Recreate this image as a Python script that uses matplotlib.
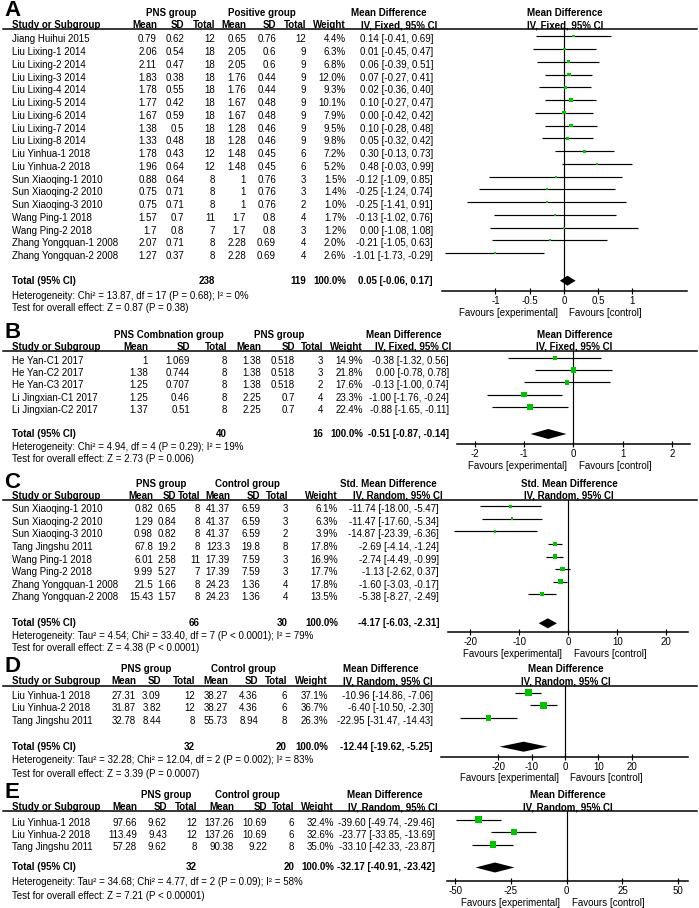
import matplotlib.pyplot as plt
import numpy as np
from matplotlib.lines import Line2D
from matplotlib.ticker import FuncFormatter

plt.rcParams["font.family"] = ["Liberation Sans", "DejaVu Sans"]
plt.rcParams["axes.unicode_minus"] = False

W, H = 699, 908
FS = 7
GREEN = "#00c400"

# ---------------- data ----------------
# panel A
a_study = ["Jiang Huihui 2015", "Liu Lixing-1 2014", "Liu Lixing-2 2014", "Liu Lixing-3 2014",
           "Liu Lixing-4 2014", "Liu Lixing-5 2014", "Liu Lixing-6 2014", "Liu Lixing-7 2014",
           "Liu Lixing-8 2014", "Liu Yinhua-1 2018", "Liu Yinhua-2 2018", "Sun Xiaoqing-1 2010",
           "Sun Xiaoqing-2 2010", "Sun Xiaoqing-3 2010", "Wang Ping-1 2018", "Wang Ping-2 2018",
           "Zhang Yongquan-1 2008", "Zhang Yongquan-2 2008"]
a_pns_mean = [0.79, 2.06, 2.11, 1.83, 1.78, 1.77, 1.67, 1.38, 1.33, 1.78, 1.96, 0.88, 0.75, 0.75, 1.57, 1.7, 2.07, 1.27]
a_pns_sd = [0.62, 0.54, 0.47, 0.38, 0.55, 0.42, 0.59, 0.5, 0.48, 0.43, 0.64, 0.64, 0.71, 0.71, 0.7, 0.8, 0.71, 0.37]
a_pns_n = [12, 18, 18, 18, 18, 18, 18, 18, 18, 12, 12, 8, 8, 8, 11, 7, 8, 8]
a_ctl_mean = [0.65, 2.05, 2.05, 1.76, 1.76, 1.67, 1.67, 1.28, 1.28, 1.48, 1.48, 1, 1, 1, 1.7, 1.7, 2.28, 2.28]
a_ctl_sd = [0.76, 0.6, 0.6, 0.44, 0.44, 0.48, 0.48, 0.46, 0.46, 0.45, 0.45, 0.76, 0.76, 0.76, 0.8, 0.8, 0.69, 0.69]
a_ctl_n = [12, 9, 9, 9, 9, 9, 9, 9, 9, 6, 6, 3, 3, 2, 4, 3, 4, 4]
a_weight = [4.4, 6.3, 6.8, 12.0, 9.3, 10.1, 7.9, 9.5, 9.8, 7.2, 5.2, 1.5, 1.4, 1.0, 1.7, 1.2, 2.0, 2.6]
a_md = [0.14, 0.01, 0.06, 0.07, 0.02, 0.10, 0.00, 0.10, 0.05, 0.30, 0.48, -0.12, -0.25, -0.25, -0.13, 0.00, -0.21, -1.01]
a_lo = [-0.41, -0.45, -0.39, -0.27, -0.36, -0.27, -0.42, -0.28, -0.32, -0.13, -0.03, -1.09, -1.24, -1.41, -1.02, -1.08, -1.05, -1.73]
a_hi = [0.69, 0.47, 0.51, 0.41, 0.40, 0.47, 0.42, 0.48, 0.42, 0.73, 0.99, 0.85, 0.74, 0.91, 0.76, 1.08, 0.63, -0.29]
a_total_n = [238, 119]
a_total_md = [0.05, -0.06, 0.17]
a_het = "Heterogeneity: Chi² = 13.87, df = 17 (P = 0.68); I² = 0%"
a_test = "Test for overall effect: Z = 0.87 (P = 0.38)"
a_groups = ["PNS group", "Positive group"]
a_effect = ["Mean Difference", "IV, Fixed, 95% CI"]
a_ticks = [-1, -0.5, 0, 0.5, 1]

# panel B
b_study = ["He Yan-C1 2017", "He Yan-C2 2017", "He Yan-C3 2017", "Li Jingxian-C1 2017", "Li Jingxian-C2 2017"]
b_pns_mean = [1, 1.38, 1.25, 1.25, 1.37]
b_pns_sd = [1.069, 0.744, 0.707, 0.46, 0.51]
b_pns_n = [8, 8, 8, 8, 8]
b_ctl_mean = [1.38, 1.38, 1.38, 2.25, 2.25]
b_ctl_sd = [0.518, 0.518, 0.518, 0.7, 0.7]
b_ctl_n = [3, 3, 2, 4, 4]
b_weight = [14.9, 21.8, 17.6, 23.3, 22.4]
b_md = [-0.38, 0.00, -0.13, -1.00, -0.88]
b_lo = [-1.32, -0.78, -1.00, -1.76, -1.65]
b_hi = [0.56, 0.78, 0.74, -0.24, -0.11]
b_total_n = [40, 16]
b_total_md = [-0.51, -0.87, -0.14]
b_het = "Heterogeneity: Chi² = 4.94, df = 4 (P = 0.29); I² = 19%"
b_test = "Test for overall effect: Z = 2.73 (P = 0.006)"
b_groups = ["PNS Combnation group", "PNS group"]
b_effect = ["Mean Difference", "IV, Fixed, 95% CI"]
b_ticks = [-2, -1, 0, 1, 2]

# panel C
c_study = ["Sun Xiaoqing-1 2010", "Sun Xiaoqing-2 2010", "Sun Xiaoqing-3 2010", "Tang Jingshu 2011",
           "Wang Ping-1 2018", "Wang Ping-2 2018", "Zhang Yongquan-1 2008", "Zhang Yongquan-2 2008"]
c_pns_mean = [0.82, 1.29, 0.98, 67.8, 6.01, 9.99, 21.5, 15.43]
c_pns_sd = [0.65, 0.84, 0.82, 19.2, 2.58, 5.27, 1.66, 1.57]
c_pns_n = [8, 8, 8, 8, 11, 7, 8, 8]
c_ctl_mean = [41.37, 41.37, 41.37, 123.3, 17.39, 17.39, 24.23, 24.23]
c_ctl_sd = [6.59, 6.59, 6.59, 19.8, 7.59, 7.59, 1.36, 1.36]
c_ctl_n = [3, 3, 2, 8, 3, 3, 4, 4]
c_weight = [6.1, 6.3, 3.9, 17.8, 16.9, 17.7, 17.8, 13.5]
c_md = [-11.74, -11.47, -14.87, -2.69, -2.74, -1.13, -1.60, -5.38]
c_lo = [-18.00, -17.60, -23.39, -4.14, -4.49, -2.62, -3.03, -8.27]
c_hi = [-5.47, -5.34, -6.36, -1.24, -0.99, 0.37, -0.17, -2.49]
c_total_n = [66, 30]
c_total_md = [-4.17, -6.03, -2.31]
c_het = "Heterogeneity: Tau² = 4.54; Chi² = 33.40, df = 7 (P < 0.0001); I² = 79%"
c_test = "Test for overall effect: Z = 4.38 (P < 0.0001)"
c_groups = ["PNS group", "Control group"]
c_effect = ["Std. Mean Difference", "IV, Random, 95% CI"]
c_ticks = [-20, -10, 0, 10, 20]

# panel D
d_study = ["Liu Yinhua-1 2018", "Liu Yinhua-2 2018", "Tang Jingshu 2011"]
d_pns_mean = [27.31, 31.87, 32.78]
d_pns_sd = [3.09, 3.82, 8.44]
d_pns_n = [12, 12, 8]
d_ctl_mean = [38.27, 38.27, 55.73]
d_ctl_sd = [4.36, 4.36, 8.94]
d_ctl_n = [6, 6, 8]
d_weight = [37.1, 36.7, 26.3]
d_md = [-10.96, -6.40, -22.95]
d_lo = [-14.86, -10.50, -31.47]
d_hi = [-7.06, -2.30, -14.43]
d_total_n = [32, 20]
d_total_md = [-12.44, -19.62, -5.25]
d_het = "Heterogeneity: Tau² = 32.28; Chi² = 12.04, df = 2 (P = 0.002); I² = 83%"
d_test = "Test for overall effect: Z = 3.39 (P = 0.0007)"
d_groups = ["PNS group", "Control group"]
d_effect = ["Mean Difference", "IV, Random, 95% CI"]
d_ticks = [-20, -10, 0, 10, 20]

# panel E
e_study = ["Liu Yinhua-1 2018", "Liu Yinhua-2 2018", "Tang Jingshu 2011"]
e_pns_mean = [97.66, 113.49, 57.28]
e_pns_sd = [9.62, 9.43, 9.62]
e_pns_n = [12, 12, 8]
e_ctl_mean = [137.26, 137.26, 90.38]
e_ctl_sd = [10.69, 10.69, 9.22]
e_ctl_n = [6, 6, 8]
e_weight = [32.4, 32.6, 35.0]
e_md = [-39.60, -23.77, -33.10]
e_lo = [-49.74, -33.85, -42.33]
e_hi = [-29.46, -13.69, -23.87]
e_total_n = [32, 20]
e_total_md = [-32.17, -40.91, -23.42]
e_het = "Heterogeneity: Tau² = 34.68; Chi² = 4.77, df = 2 (P = 0.09); I² = 58%"
e_test = "Test for overall effect: Z = 7.21 (P < 0.00001)"
e_groups = ["PNS group", "Control group"]
e_effect = ["Mean Difference", "IV, Random, 95% CI"]
e_ticks = [-50, -25, 0, 25, 50]

col_heads = ["Mean", "SD", "Total", "Mean", "SD", "Total", "Weight"]

# ---------------- layout (pixels) ----------------
LAY = {
    "A": dict(grp=13, hdr=25, line=29.3, row0=39.3, step=12.75, total=280.7, het=296, test=308.3,
              axis=291, x0=441.7, x1=687.3, xlim=(-1.785, 1.80),
              cols=[157, 184, 215, 246, 276, 306, 346], md_r=433, grp_x=[171, 262], eff_r=[427, 437]),
    "B": dict(grp=335, hdr=346.7, line=351, row0=360.7, step=12.3, total=434, het=446.7, test=459.3,
              axis=444, x0=456.7, x1=690, xlim=(-2.37, 2.37),
              cols=[148, 190, 227, 261, 295, 323, 363], md_r=449, grp_x=[169, 279], eff_r=[442, 451]),
    "C": dict(grp=484, hdr=496, line=500, row0=509.3, step=12.57, total=623.3, het=636, test=648.3,
              axis=632.3, x0=447.7, x1=688.3, xlim=(-24.6, 24.5),
              cols=[153, 176, 200, 230, 260, 288, 338], md_r=439, grp_x=[161, 247], eff_r=[437, 443]),
    "D": dict(grp=669, hdr=681, line=685.7, row0=695.7, step=12.5, total=746.7, het=760, test=774,
              axis=756.7, x0=440.7, x1=688.3, xlim=(-37.3, 37.0),
              cols=[136, 161, 195, 228, 258, 287, 328], md_r=433, grp_x=[146, 243], eff_r=[419, 433]),
    "E": dict(grp=795, hdr=807.3, line=811, row0=822.5, step=12.5, total=867.5, het=882, test=896.3,
              axis=881, x0=446.7, x1=688.3, xlim=(-53.8, 54.5),
              cols=[137, 167, 197, 234, 267, 294, 334], md_r=435, grp_x=[166, 247], eff_r=[423, 438]),
}

fig = plt.figure(figsize=(W / 100, H / 100), dpi=100)


def put(x, y, s, ha="left", bold=False, size=FS):
    fig.text(x / W, 1 - y / H, s, ha=ha, va="center", fontsize=size,
             fontweight="bold" if bold else "normal")


def fmt_ci(m, lo, hi):
    return "{:.2f} [{:.2f}, {:.2f}]".format(m, lo, hi)


def panel(letter, study, cols, weight, md, lo, hi, total_n, total_md,
          het, test, groups, effect, ticks):
    L = LAY[letter]
    n = len(study)
    put(4, L["grp"] - 2, letter, bold=True, size=16)

    # headers
    for gx, g in zip(L["grp_x"], groups):
        put(gx, L["grp"], g, ha="center", bold=True)
    put(L["eff_r"][0], L["grp"], effect[0], ha="right", bold=True)
    put(L["eff_r"][1], L["hdr"], effect[1], ha="right", bold=True)
    zero_px = L["x0"] + (0 - L["xlim"][0]) / (L["xlim"][1] - L["xlim"][0]) * (L["x1"] - L["x0"])
    put(zero_px + 1, L["grp"], effect[0], ha="center", bold=True)
    put(zero_px + 1, L["hdr"], effect[1], ha="center", bold=True)
    put(12, L["hdr"], "Study or Subgroup", bold=True)
    for cx, c in zip(L["cols"], col_heads):
        put(cx, L["hdr"], c, ha="right", bold=True)
    fig.add_artist(Line2D([3 / W, 697 / W], [1 - L["line"] / H] * 2,
                          transform=fig.transFigure, color="black", lw=1.1))

    # study rows
    for i in range(n):
        y = L["row0"] + i * L["step"]
        put(12, y, study[i])
        for j, cx in enumerate(L["cols"][:6]):
            put(cx, y, "{:g}".format(cols[j][i]), ha="right")
        put(L["cols"][6], y, "{:.1f}%".format(weight[i]), ha="right")
        put(L["md_r"], y, fmt_ci(md[i], lo[i], hi[i]), ha="right")

    # totals
    put(12, L["total"], "Total (95% CI)", bold=True)
    put(L["cols"][2], L["total"], str(total_n[0]), ha="right", bold=True)
    put(L["cols"][5], L["total"], str(total_n[1]), ha="right", bold=True)
    put(L["cols"][6], L["total"], "100.0%", ha="right", bold=True)
    put(L["md_r"], L["total"], fmt_ci(*total_md), ha="right", bold=True)
    put(12, L["het"], het)
    put(12, L["test"], test)

    # forest plot
    off = 3.0

    def idx(ypx):
        return (ypx - L["row0"] + off) / L["step"]

    ax = fig.add_axes([L["x0"] / W, 1 - L["axis"] / H,
                       (L["x1"] - L["x0"]) / W, (L["axis"] - L["line"]) / H])
    ax.set_xlim(*L["xlim"])
    ax.set_ylim(idx(L["axis"]), idx(L["line"]))
    rows = np.arange(n)
    ax.hlines(rows, lo, hi, color="black", lw=0.85, zorder=2)
    sizes = np.clip(0.8 * np.sqrt(np.array(weight)), 1.4, None) ** 2
    ax.scatter(md, rows, s=sizes, marker="s", color=GREEN, linewidths=0, zorder=3)
    t = idx(L["total"])
    dh = 5.0 / L["step"]
    ax.fill([total_md[1], total_md[0], total_md[2], total_md[0]],
            [t, t - dh, t, t + dh], color="black", lw=0, zorder=3)
    ax.axvline(0, color="black", lw=0.85, zorder=1)
    for s in ["top", "left", "right"]:
        ax.spines[s].set_visible(False)
    ax.spines["bottom"].set_linewidth(1.1)
    ax.set_yticks([])
    ax.set_xticks(ticks)
    ax.xaxis.set_major_formatter(FuncFormatter(lambda v, p: "{:g}".format(v)))
    ax.tick_params(axis="x", direction="inout", length=5, width=0.85, labelsize=FS, pad=1.0)
    ax.patch.set_alpha(0)
    ax.annotate("Favours [experimental]", xy=(0, 0), xycoords=("data", "axes fraction"),
                xytext=(-4.5, -15.5), textcoords="offset points", ha="right", va="center",
                fontsize=FS)
    ax.annotate("Favours [control]", xy=(0, 0), xycoords=("data", "axes fraction"),
                xytext=(3.8, -15.5), textcoords="offset points", ha="left", va="center",
                fontsize=FS)


panel("A", a_study, [a_pns_mean, a_pns_sd, a_pns_n, a_ctl_mean, a_ctl_sd, a_ctl_n],
      a_weight, a_md, a_lo, a_hi, a_total_n, a_total_md, a_het, a_test, a_groups, a_effect, a_ticks)
panel("B", b_study, [b_pns_mean, b_pns_sd, b_pns_n, b_ctl_mean, b_ctl_sd, b_ctl_n],
      b_weight, b_md, b_lo, b_hi, b_total_n, b_total_md, b_het, b_test, b_groups, b_effect, b_ticks)
panel("C", c_study, [c_pns_mean, c_pns_sd, c_pns_n, c_ctl_mean, c_ctl_sd, c_ctl_n],
      c_weight, c_md, c_lo, c_hi, c_total_n, c_total_md, c_het, c_test, c_groups, c_effect, c_ticks)
panel("D", d_study, [d_pns_mean, d_pns_sd, d_pns_n, d_ctl_mean, d_ctl_sd, d_ctl_n],
      d_weight, d_md, d_lo, d_hi, d_total_n, d_total_md, d_het, d_test, d_groups, d_effect, d_ticks)
panel("E", e_study, [e_pns_mean, e_pns_sd, e_pns_n, e_ctl_mean, e_ctl_sd, e_ctl_n],
      e_weight, e_md, e_lo, e_hi, e_total_n, e_total_md, e_het, e_test, e_groups, e_effect, e_ticks)

fig.savefig("out.png", dpi=100)
